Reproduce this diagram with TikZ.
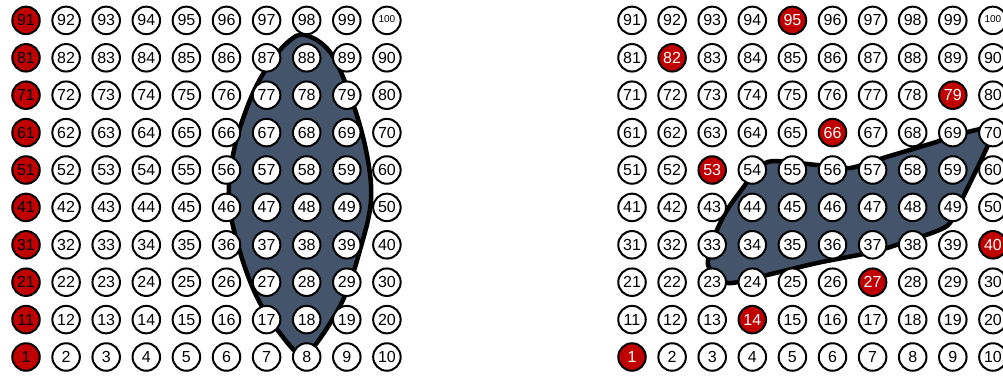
\documentclass[tikz,border=0pt]{standalone}
\usepackage{fontspec}
\setmainfont{Liberation Sans}
\definecolor{redzero}{RGB}{192,0,0}
\definecolor{slate}{RGB}{68,84,106}
\begin{document}
\begin{tikzpicture}[x=1pt,y=-1pt,
  cell/.style={circle,draw=black,line width=2pt,fill=white,minimum size=27.5pt,inner sep=0pt,font=\fontsize{16}{16}\selectfont},
  blob/.style={fill=slate,draw=black,line width=4.5pt,line join=round}]
\clip (0,0) rectangle (1003,375);
% left blob
\draw[blob] plot[smooth cycle,tension=0.6] coordinates {(305,35) (330,52) (350,95) (366,150) (371,200) (360,250) (343,300) (316,344) (303,352) (291,347) (260,303) (240,252) (229,200) (234,150) (250,100) (268,66) (288,42)};
% right blob
\draw[blob] plot[smooth cycle,tension=0.4] coordinates {(708,265) (728,283) (767,275) (817,263) (873,252) (905,242) (947,226) (963,197) (988,145) (990,128) (960,134) (933,143) (883,158) (850,168) (817,165) (773,161) (757,168) (745,185) (727,210) (715,235)};
\foreach \n in {1,...,100}{
  \pgfmathtruncatemacro\r{div(\n-1,10)}
  \pgfmathtruncatemacro\c{mod(\n-1,10)}
  \pgfmathsetmacro\x{26+40.1*\c}
  \pgfmathsetmacro\xr{632+40.1*\c}
  \pgfmathsetmacro\y{357-37.4*\r}
  \ifnum\n=100 \def\lab{\fontsize{10}{10}\selectfont\raisebox{3pt}{100}}\else\def\lab{\n}\fi
  \ifnum\c=0 \def\fc{redzero}\else\def\fc{white}\fi
  \node[cell,fill=\fc] (L\n) at (\x,\y) {\lab};
  \pgfmathtruncatemacro\isred{(\n==1)||(\n==14)||(\n==27)||(\n==40)||(\n==53)||(\n==66)||(\n==79)||(\n==82)||(\n==95)}
  \ifnum\isred=1 \def\fc{redzero}\def\tc{white}\else\def\fc{white}\def\tc{black}\fi
  \node[cell,fill=\fc,text=\tc] (R\n) at (\xr,\y) {\lab};
}
\end{tikzpicture}
\end{document}
